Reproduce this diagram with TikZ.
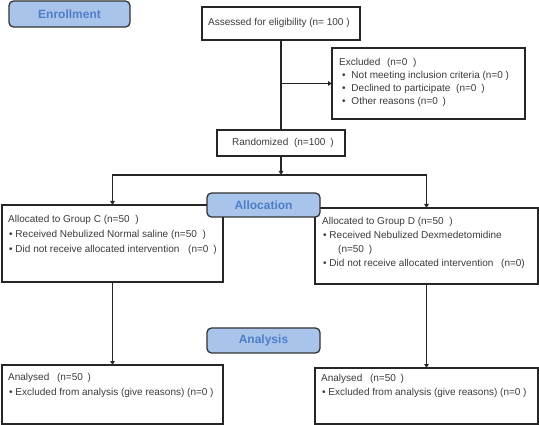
\documentclass[tikz,border=0pt]{standalone}
\usepackage{fontspec}
\setmainfont{Liberation Sans}
\usetikzlibrary{arrows.meta}
\definecolor{hdrfill}{HTML}{A9C4EB}
\definecolor{hdrtext}{HTML}{4F7EC8}
\definecolor{txtcol}{HTML}{3A3A3A}
\begin{document}
\begin{tikzpicture}[x=1pt,y=-1pt,
  box/.style={draw=black!85, line width=1.2pt, anchor=north west, inner sep=0pt, outer sep=0pt},
  hdr/.style={draw=black!80, line width=1.3pt, rounded corners=4.5pt, fill=hdrfill, text=hdrtext,
    font=\fontsize{12}{14}\selectfont\bfseries, inner sep=0pt, outer sep=0pt, anchor=north west},
  txt/.style={anchor=base west, inner sep=0pt, text=txtcol, font=\fontsize{10}{12}\selectfont},
  conn/.style={line width=1.2pt, draw=black!85},
  arr/.style={conn, -{Triangle[length=4pt,width=4.5pt]}}]
\useasboundingbox (0,0) rectangle (539,425);

% boxes
\node[hdr, minimum width=121pt, minimum height=26pt] (enroll) at (9,1) {Enrollment};
\node[box, minimum width=158pt, minimum height=33pt] (assessed) at (202,7) {};
\node[box, minimum width=193pt, minimum height=71pt] (excluded) at (332,48) {};
\node[box, minimum width=128pt, minimum height=26pt] (random) at (217,130) {};
\node[box, minimum width=221pt, minimum height=77pt] (groupC) at (2,205) {};
\node[box, minimum width=223pt, minimum height=76pt] (groupD) at (315,208) {};
\node[hdr, minimum width=113pt, minimum height=24pt] (alloc) at (207,193) {Allocation};
\node[box, minimum width=221pt, minimum height=59pt] (anaC) at (2,365) {};
\node[box, minimum width=223pt, minimum height=56pt] (anaD) at (315,368) {};
\node[hdr, minimum width=113pt, minimum height=25pt] (analysis) at (207,328) {Analysis};

% texts
\node[txt] (t1) at (208,25.5) {Assessed for eligibility (n= 100 )};
\node[txt] (t2) at (339,65.5) {Excluded\hspace{4pt} (n=0\hspace{3pt} )};
\node[txt] (t3) at (342,78.5) {•\hspace{3pt} Not meeting inclusion criteria (n=0 )};
\node[txt] (t4) at (342,91.5) {•\hspace{3pt} Declined to participate\hspace{3pt} (n=0\hspace{2pt} )};
\node[txt] (t5) at (342,104.5) {•\hspace{3pt} Other reasons (n=0\hspace{2pt} )};
\node[txt] (t6) at (232,146) {Randomized\hspace{3pt} (n=100\hspace{2pt} )};

\node[txt] (t7) at (8,222.5) {Allocated to Group C (n=50\hspace{3pt} )};
\node[txt] (t8) at (9,237.5) {• Received Nebulized Normal saline (n=50\hspace{3pt} )};
\node[txt] (t9) at (9,252.5) {• Did not receive allocated intervention\hspace{6pt} (n=0\hspace{2pt} )};

\node[txt] (t10) at (322,224.5) {Allocated to Group D (n=50\hspace{3pt} )};
\node[txt] (t11) at (323,238.5) {• Received Nebulized Dexmedetomidine};
\node[txt] (t12) at (338,252.5) {(n=50\hspace{2pt} )};
\node[txt] (t13) at (323,266.5) {• Did not receive allocated intervention\hspace{5pt} (n=0)};

\node[txt] (t14) at (8,380.5) {Analysed\hspace{5pt} (n=50\hspace{2pt} )};
\node[txt] (t15) at (9,395.5) {• Excluded from analysis (give reasons) (n=0 )};
\node[txt] (t16) at (321,381.5) {Analysed\hspace{5pt} (n=50\hspace{2pt} )};
\node[txt] (t17) at (322,395.5) {• Excluded from analysis (give reasons) (n=0 )};

% connectors
\coordinate (split) at (281,175);
\draw[conn] (assessed.south) -- (random.north);
\draw[arr] (assessed.south |- excluded.west) -- (excluded.west);
\draw[arr] (random.south) -- (split);
\draw[arr] (split) -| (groupC.north);
\draw[arr] (split) -| (groupD.north);
\draw[arr] (groupC.south) -- (anaC.north);
\draw[arr] (groupD.south) -- (anaD.north);
\end{tikzpicture}
\end{document}
